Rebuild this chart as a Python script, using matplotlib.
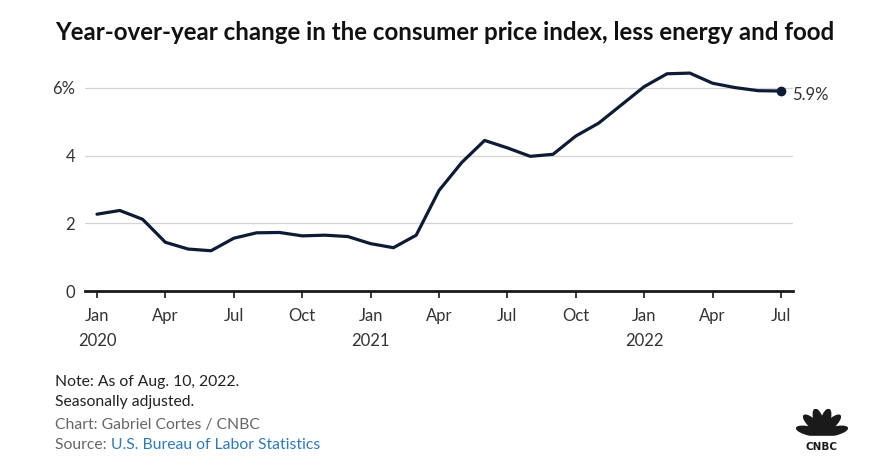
import matplotlib
matplotlib.use("Agg")
import matplotlib.pyplot as plt
import numpy as np
from matplotlib import patches

plt.rcParams["font.family"] = ["Lato", "DejaVu Sans"]

# 2020-01 .. 2022-07, core CPI year-over-year change (%)
months = list(range(31))
core_cpi = [2.27, 2.38, 2.12, 1.44, 1.24, 1.19, 1.56, 1.72, 1.73, 1.63, 1.65, 1.61,
            1.40, 1.28, 1.65, 2.97, 3.80, 4.45, 4.23, 3.98, 4.04, 4.58, 4.96, 5.50,
            6.04, 6.42, 6.44, 6.14, 6.01, 5.92, 5.91]
tick_pos = list(range(0, 31, 3))
tick_labels = ["Jan\n2020", "Apr", "Jul", "Oct", "Jan\n2021", "Apr", "Jul", "Oct",
               "Jan\n2022", "Apr", "Jul"]
y_ticks = [0, 2, 4, 6]
y_labels = ["0", "2", "4", "6%"]

NAVY = "#0c1c36"
TXT = "#333333"

fig = plt.figure(figsize=(8.78, 4.69), dpi=100)
ax = fig.add_axes([0.0968, 0.3795, 0.8064, 0.4834])

ax.plot(months, core_cpi, color=NAVY, linewidth=2.3, solid_joinstyle="round",
        solid_capstyle="round", zorder=3, clip_on=False)
ax.plot(months[-1], core_cpi[-1], "o", color=NAVY, markersize=6, zorder=4, clip_on=False)
ax.annotate(f"{core_cpi[-1]:.1f}%", (months[-1], core_cpi[-1]), xytext=(8, -3),
            textcoords="offset points", va="center", ha="left", fontsize=12, color=TXT)

ax.set_xlim(-0.526, 30.526)
ax.set_ylim(0, 6.7)
ax.set_yticks(y_ticks)
ax.set_yticklabels(y_labels)
ax.set_xticks(tick_pos)
ax.set_xticklabels(tick_labels, linespacing=1.75)

for s in ("top", "right", "left"):
    ax.spines[s].set_visible(False)
ax.spines["bottom"].set_color("#1a1a1a")
ax.spines["bottom"].set_linewidth(2.0)
ax.grid(axis="y", color="#d4d4d4", linewidth=0.9)
ax.set_axisbelow(True)
ax.tick_params(axis="y", length=0, pad=7, labelsize=12, labelcolor=TXT)
ax.tick_params(axis="x", length=5, width=1.2, color="#1a1a1a", pad=7,
               labelsize=12, labelcolor=TXT)

fig.text(0.0626, 0.93, "Year-over-year change in the consumer price index, less energy and food",
         fontsize=17.4, fontweight="bold", color="#111111", va="center")

fig.text(0.0626, 0.185, "Note: As of Aug. 10, 2022.", fontsize=11.3, color="#222222", va="center")
fig.text(0.0626, 0.142, "Seasonally adjusted.", fontsize=11.3, color="#222222", va="center")
fig.text(0.0626, 0.094, "Chart: Gabriel Cortes / CNBC", fontsize=11.3, color="#666666", va="center")
src = fig.text(0.0626, 0.051, "Source: ", fontsize=11.3, color="#666666", va="center")
fig.canvas.draw()
bb = src.get_window_extent()
fig.text(bb.x1 / fig.bbox.width, 0.051, "U.S. Bureau of Labor Statistics",
         fontsize=11.3, color="#2b7bc0", va="center")

# CNBC peacock logo
cx, cy = 822 / 878, 1 - 432 / 469
lax = fig.add_axes([cx - 0.03, cy - 0.05, 0.06, 0.1])
lax.set_xlim(-1, 1)
lax.set_ylim(-1, 1)
lax.set_axis_off()
for a in [165, 133, 105, 75, 47, 15]:
    r = np.deg2rad(a)
    e = patches.Ellipse((0.42 * np.cos(r), -0.12 + 0.55 * np.sin(r)), 0.34, 1.15,
                        angle=a - 90, color="#1a1a1a")
    lax.add_patch(e)
lax.add_patch(patches.Rectangle((-1, -0.55), 2, 0.4, color="white", zorder=2))
lax.text(0, -0.62, "CNBC", ha="center", va="center", fontsize=7.5, zorder=3,
         fontweight="bold", color="#1a1a1a", family="DejaVu Sans")

fig.savefig("out.png", dpi=100)
